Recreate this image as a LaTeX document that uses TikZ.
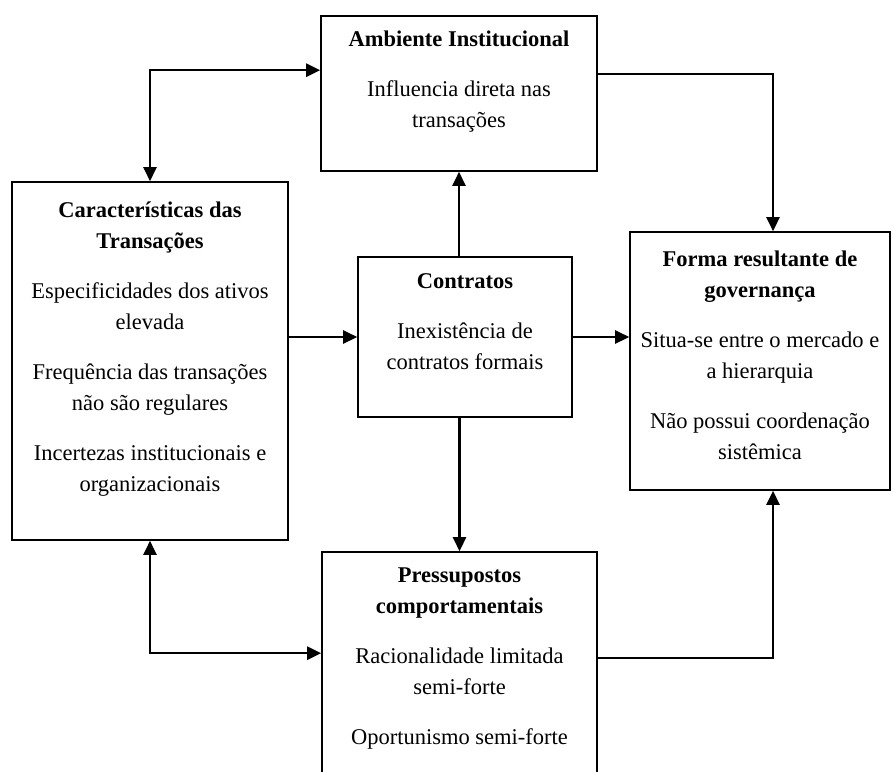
\documentclass[tikz,border=0pt]{standalone}
\usepackage{fontspec}
\setmainfont{Liberation Serif}
\usetikzlibrary{arrows.meta, calc}
% box text: width, height, top pad, content
\newcommand{\boxbody}[4]{\parbox[c][#2][t]{#1}{\fontsize{22.5}{31}\selectfont\setlength{\parskip}{19pt}\centering\rule{0pt}{#3}#4}}

\begin{document}
\begin{tikzpicture}[
				x=1pt, y=-1pt,
				box/.style={rectangle, draw=black, fill=white, line width=1.6pt, inner sep=0pt},
				arrow/.style={-{Triangle[length=14pt, width=13pt]}, line width=2.5pt, draw=black},
				biarrow/.style={{Triangle[length=14pt, width=13pt]}-{Triangle[length=14pt, width=13pt]}, line width=2.5pt, draw=black}
				]
				\useasboundingbox (0,0) rectangle (893,771);
				\clip (0,0) rectangle (893,771);
				
				% Top: Ambiente Institucional
				\node[box] (amb) at (459, 93.5) {\boxbody{276pt}{155pt}{30pt}{\textbf{Ambiente Institucional}\par Influencia direta nas\\transações}};
				
				% Left: Caracteristicas das Transacoes
				\node[box] (car) at (150, 361) {\boxbody{276pt}{358pt}{35pt}{\textbf{Características das}\\\textbf{Transações}\par Especificidades dos ativos\\elevada\par Frequência das transações\\não são regulares\par Incertezas institucionais e\\organizacionais}};
				
				% Centre: Contratos
				\node[box] (con) at (465, 337) {\boxbody{214pt}{160pt}{31pt}{\textbf{Contratos}\par Inexistência de\\contratos formais}};
				
				% Right: Forma resultante de governanca
				\node[box] (gov) at (760, 361) {\boxbody{260pt}{258pt}{34pt}{\textbf{Forma resultante de}\\\textbf{governança}\par Situa-se entre o mercado e\\a hierarquia\par Não possui coordenação\\sistêmica}};
				
				% Bottom: Pressupostos comportamentais
				\node[box] (pre) at (459.5, 671) {\boxbody{275pt}{238pt}{30pt}{\textbf{Pressupostos}\\\textbf{comportamentais}\par Racionalidade limitada\\semi-forte\par Oportunismo semi-forte}};
				
				% Routing Arrows
				\draw[biarrow] (car.north) |- ($(amb.north west)+(0,55)$);
				\draw[arrow] ($(amb.north east)+(0,59)$) -| ($(gov.north)+(13,0)$);
				\draw[arrow] (amb.south |- con.north) -- (amb.south);
				\draw[arrow] (con.west -| car.east) -- (con.west);
				\draw[arrow] (con.east) -- (con.east -| gov.west);
				\draw[arrow] (con.south -| pre.north) -- (pre.north);
				\draw[biarrow] (car.south) |- ($(pre.north west)+(0,102)$);
				\draw[arrow] ($(pre.north east)+(0,107)$) -| ($(gov.south)+(13,0)$);
			\end{tikzpicture}
\end{document}
